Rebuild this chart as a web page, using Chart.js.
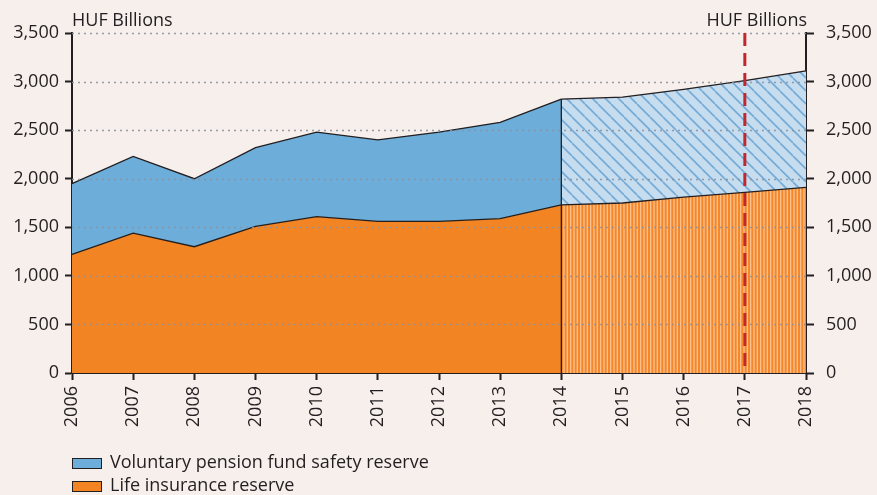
<!DOCTYPE html>
<html>
<head>
<meta charset="utf-8">
<script src="https://cdn.jsdelivr.net/npm/chart.js@4.4.1/dist/chart.umd.min.js"></script>
<style>
html,body{margin:0;padding:0;background:#f6efec;}
#wrap{position:relative;width:877px;height:495px;font-family:"Open Sans",sans-serif;color:#231f20;background:#f6efec;}
#c{position:absolute;left:0;top:0;}
.unit{position:absolute;top:10px;font-size:18px;line-height:18px;white-space:nowrap;}
.row{position:absolute;left:72px;height:18px;font-size:18px;line-height:18px;white-space:nowrap;}
.sw{position:absolute;left:0;top:6px;width:30px;height:11px;box-sizing:border-box;border:1.5px solid #231f20;}
.lt{position:absolute;left:38px;top:0;}
</style>
</head>
<body>
<div id="wrap">
  <canvas id="c" width="877" height="495"></canvas>
  <div class="unit" style="left:72px;">HUF Billions</div>
  <div class="unit" style="right:70px;">HUF Billions</div>
  <div class="row" style="top:452px;"><span class="sw" style="background:#6caed9;"></span><span class="lt">Voluntary pension fund safety reserve</span></div>
  <div class="row" style="top:475px;"><span class="sw" style="background:#f28423;"></span><span class="lt">Life insurance reserve</span></div>
</div>
<script>
// ---- data (HUF billions) ----
const years = ['2006','2007','2008','2009','2010','2011','2012','2013','2014','2015','2016','2017','2018'];
const lifeInsurance  = [1220,1440,1300,1510,1610,1560,1560,1590,1730,1750,1810,1860,1910];
const pensionReserve = [730,790,700,810,870,840,920,990,1090,1090,1110,1150,1200];
const forecastStart = '2014';
const markerYear = '2017';
const yMin = 0, yMax = 3500, yStep = 500;

// ---- derived ----
const ink = '#231f20';
const orange = '#f28423';
const blue = '#6caed9';
const fi = years.indexOf(forecastStart);
const totals = lifeInsurance.map((v, i) => v + pensionReserve[i]);
const actual = arr => arr.map((v, i) => i <= fi ? v : null);
const forecast = arr => arr.map((v, i) => i >= fi ? v : null);

function stripePattern(ctx) {
  const c = document.createElement('canvas');
  c.width = 10; c.height = 10;
  const g = c.getContext('2d');
  g.fillStyle = '#f5872a';
  g.fillRect(0, 0, 10, 10);
  g.fillStyle = '#fbc290';
  [0, 3.33, 6.67].forEach(x => g.fillRect(x, 0, 1.3, 10));
  return ctx.createPattern(c, 'repeat');
}
function hatchPattern(ctx) {
  const s = 13;
  const c = document.createElement('canvas');
  c.width = s; c.height = s;
  const g = c.getContext('2d');
  g.fillStyle = '#c6dcef';
  g.fillRect(0, 0, s, s);
  g.strokeStyle = '#74aad6';
  g.lineWidth = 1.6;
  for (let k = -1; k <= 1; k++) {
    g.beginPath();
    g.moveTo(k * s, 0);
    g.lineTo(k * s + s, s);
    g.stroke();
  }
  return ctx.createPattern(c, 'repeat');
}

const canvas = document.getElementById('c');
const ctx = canvas.getContext('2d');
const font = { family: '"Open Sans", sans-serif', size: 18 };

const overlay = {
  id: 'overlay',
  afterDatasetsDraw(chart) {
    const { ctx, chartArea: a, scales: { x, y } } = chart;
    ctx.save();
    // dotted gridlines on top of areas
    ctx.strokeStyle = 'rgba(140,146,158,0.9)';
    ctx.lineWidth = 1.5;
    ctx.setLineDash([2, 4]);
    y.ticks.forEach(t => {
      if (t.value === yMin) return;
      const py = Math.round(y.getPixelForValue(t.value)) + 0.5;
      ctx.beginPath(); ctx.moveTo(a.left, py); ctx.lineTo(a.right, py); ctx.stroke();
    });
    // boundary between actual and forecast
    const bx = x.getPixelForValue(fi);
    ctx.setLineDash([]);
    ctx.strokeStyle = ink;
    ctx.lineWidth = 1.3;
    ctx.beginPath();
    ctx.moveTo(bx, y.getPixelForValue(yMin));
    ctx.lineTo(bx, y.getPixelForValue(totals[fi]));
    ctx.stroke();
    // red dashed marker
    const mx = x.getPixelForValue(years.indexOf(markerYear));
    ctx.strokeStyle = '#c1272d';
    ctx.lineWidth = 3;
    ctx.setLineDash([13, 7]);
    ctx.beginPath(); ctx.moveTo(mx, a.top); ctx.lineTo(mx, a.bottom); ctx.stroke();
    ctx.restore();
  }
};

const yAxis = (pos, width, tickLen, pad) => ({
  type: 'linear',
  position: pos,
  min: yMin, max: yMax,
  z: 1,
  ticks: { stepSize: yStep, color: ink, font: font, padding: pad },
  grid: { drawOnChartArea: false, tickLength: tickLen, tickColor: ink, tickWidth: 2 },
  border: { color: ink, width: 2 },
  afterFit(s) { s.width = width; }
});

new Chart(ctx, {
  type: 'line',
  data: {
    labels: years,
    datasets: [
      { label: 'Life insurance reserve', data: actual(lifeInsurance), borderColor: ink, borderWidth: 1.3,
        backgroundColor: orange, fill: 'origin', pointRadius: 0, tension: 0 },
      { label: 'Life insurance reserve (forecast)', data: forecast(lifeInsurance), borderColor: ink, borderWidth: 1.3,
        backgroundColor: stripePattern(ctx), fill: 'origin', pointRadius: 0, tension: 0 },
      { label: 'Voluntary pension fund safety reserve', data: actual(totals), borderColor: ink, borderWidth: 1.3,
        backgroundColor: blue, fill: 0, pointRadius: 0, tension: 0 },
      { label: 'Voluntary pension fund safety reserve (forecast)', data: forecast(totals), borderColor: ink, borderWidth: 1.3,
        backgroundColor: hatchPattern(ctx), fill: 1, pointRadius: 0, tension: 0 }
    ]
  },
  options: {
    responsive: false,
    animation: false,
    layout: { padding: { top: 33, left: 0, right: 0, bottom: 0 } },
    plugins: { legend: { display: false }, tooltip: { enabled: false } },
    scales: {
      x: {
        type: 'category',
        offset: false,
        z: 1,
        ticks: { autoSkip: false, minRotation: 90, maxRotation: 90, color: ink, font: font, padding: 6 },
        grid: { drawOnChartArea: false, offset: false, tickLength: 7, tickColor: ink, tickWidth: 2 },
        border: { color: ink, width: 2 },
        afterFit(s) { s.height = 122; }
      },
      y: yAxis('left', 72, 7, 6),
      y2: yAxis('right', 71, 8, 12)
    }
  },
  plugins: [overlay]
});
</script>
</body>
</html>
